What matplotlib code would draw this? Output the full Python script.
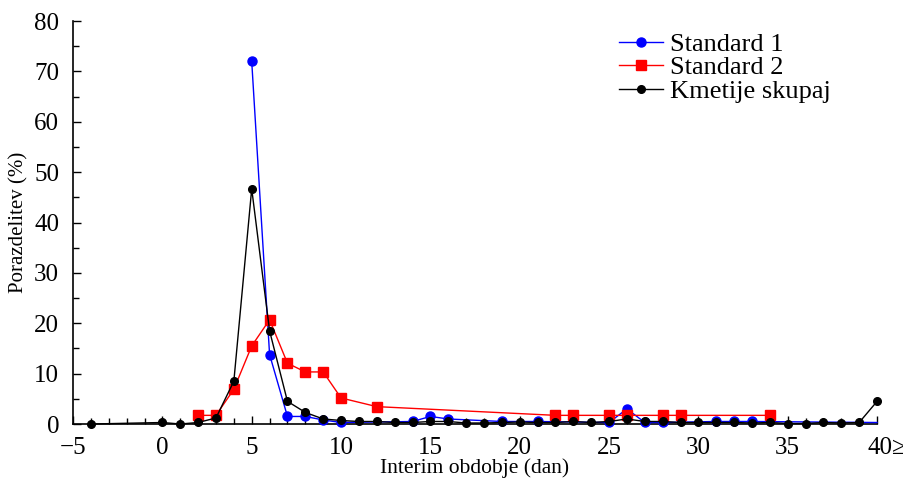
import matplotlib.pyplot as plt
from matplotlib.ticker import MultipleLocator
from matplotlib.transforms import ScaledTranslation

plt.rcParams['font.family'] = ['Liberation Serif', 'DejaVu Serif']

# Standard 1
x_std1 = [5, 6, 7, 8, 9, 10, 14, 15, 16, 19, 21, 25, 26, 27, 28, 31, 32, 33, 40]
y_std1 = [72.0, 13.8, 1.5, 1.5, 0.8, 0.3, 0.5, 1.5, 1.0, 0.5, 0.5, 0.3, 3.0, 0.3, 0.3, 0.5, 0.5, 0.5, 0.3]

# Standard 2
x_std2 = [2, 3, 4, 5, 6, 7, 8, 9, 10, 12, 22, 23, 25, 26, 28, 29, 34]
y_std2 = [1.72, 1.72, 6.9, 15.5, 20.7, 12.07, 10.34, 10.34, 5.17, 3.45,
          1.72, 1.72, 1.72, 1.72, 1.72, 1.72, 1.72]

# Kmetije skupaj
x_all = [-4, 0, 1, 2, 3, 4, 5, 6, 7, 8, 9, 10, 11, 12, 13, 14, 15, 16, 17, 18, 19,
         20, 21, 22, 23, 24, 25, 26, 27, 28, 29, 30, 31, 32, 33, 34, 35, 36, 37, 38, 39, 40]
y_all = [0.0, 0.3, 0.0, 0.3, 1.2, 8.5, 46.7, 18.5, 4.5, 2.3, 1.0, 0.7, 0.5, 0.5, 0.3, 0.3,
         0.5, 0.5, 0.2, 0.2, 0.3, 0.4, 0.3, 0.3, 0.5, 0.3, 0.5, 1.0, 0.5, 0.5, 0.3, 0.3,
         0.3, 0.3, 0.2, 0.3, 0.1, 0.1, 0.3, 0.2, 0.3, 4.5]

xticks = [-5, 0, 5, 10, 15, 20, 25, 30, 35, 40]
xticklabels = ['\u22125', '0', '5', '10', '15', '20', '25', '30', '35', '40\u2265']

fig = plt.figure(figsize=(9.04, 4.79), dpi=100)
ax = fig.add_axes([0.0808, 0.1148, 0.8894, 0.8412])

ax.plot(x_std1, y_std1, color='#0000ff', lw=1, marker='o', ms=6.5,
        markevery=list(range(len(x_std1) - 1)), label='Standard 1', clip_on=False, zorder=3)
ax.plot(x_std2, y_std2, color='#ff0000', lw=1, marker='s', ms=6.5,
        label='Standard 2', clip_on=False, zorder=4)
ax.plot(x_all, y_all, color='black', lw=1, marker='o', ms=5.5,
        label='Kmetije skupaj', clip_on=False, zorder=5)

ax.set_xlim(-5, 40)
ax.set_ylim(0, 80)
ax.spines['top'].set_visible(False)
ax.spines['right'].set_visible(False)
ax.spines['left'].set_linewidth(1.2)
ax.spines['bottom'].set_linewidth(1.2)

ax.set_xticks(xticks)
ax.set_xticklabels(xticklabels)
ax.xaxis.set_minor_locator(MultipleLocator(1))
ax.yaxis.set_major_locator(MultipleLocator(10))
ax.yaxis.set_minor_locator(MultipleLocator(5))
ax.tick_params(which='major', direction='in', length=6, width=1, labelsize=18)
ax.tick_params(axis='x', which='major', pad=9)
ax.tick_params(axis='y', which='major', pad=10)
ax.tick_params(which='minor', direction='in', length=4, width=1)

lab = ax.get_xticklabels()[-1]
lab.set_horizontalalignment('left')
lab.set_transform(lab.get_transform() + ScaledTranslation(-10 / 100, 0, fig.dpi_scale_trans))

ax.set_xlabel('Interim obdobje (dan)', fontsize=15.5, labelpad=0)
ax.set_ylabel('Porazdelitev (%)', fontsize=15, labelpad=4)

ax.legend(loc='upper left', bbox_to_anchor=(0.679, 0.972), frameon=False, fontsize=19,
          borderaxespad=0, borderpad=0, handlelength=1.65, handletextpad=0.3,
          labelspacing=0.0)

fig.savefig('out.png', dpi=100)
